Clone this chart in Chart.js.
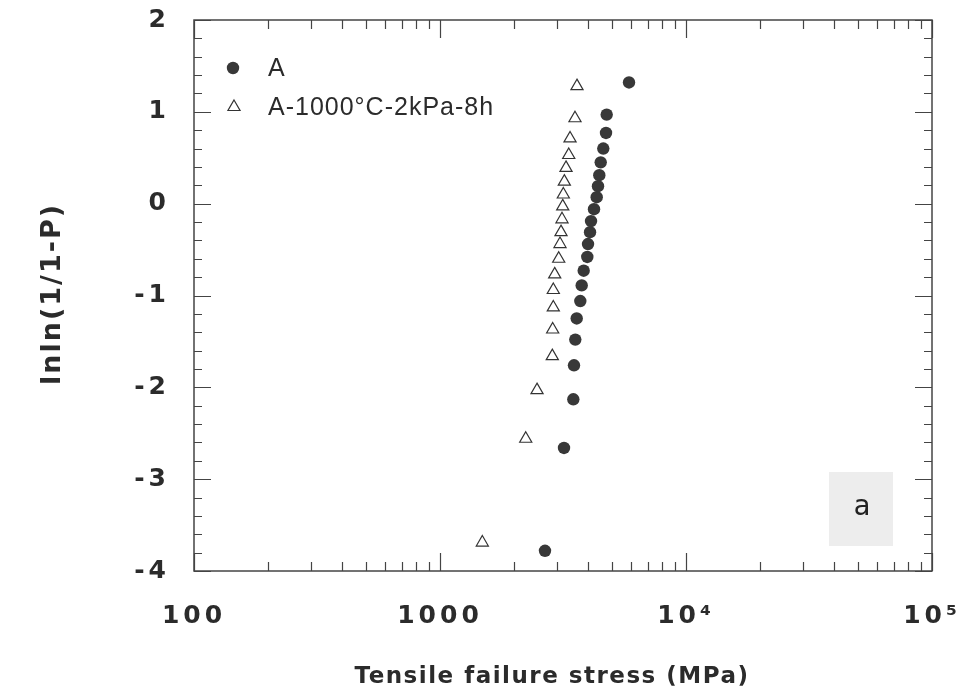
<!DOCTYPE html>
<html>
<head>
<meta charset="utf-8">
<title>Weibull plot - tensile failure stress</title>
<script src="https://cdn.jsdelivr.net/npm/chart.js@4"></script>
<style>
    html, body { margin: 0; padding: 0; background: #fff; }
    #wrap { width: 966px; height: 699px; position: relative; }
</style>
</head>
<body>
<div id="wrap"><canvas id="weibullChart"></canvas></div>
<script>
// Series A (as received) - stress in MPa, lnln(1/1-P)
const stressA = [5866, 4760, 4730, 4611, 4501, 4442, 4388, 4335, 4227, 4111, 4073,
                 3997, 3970, 3838, 3767, 3718, 3595, 3548, 3505, 3483, 3192, 2672];
const lnlnA   = [1.32, 0.97, 0.77, 0.60, 0.45, 0.31, 0.19, 0.07, -0.06, -0.19, -0.31,
                 -0.44, -0.58, -0.73, -0.89, -1.06, -1.25, -1.48, -1.76, -2.13, -2.66, -3.78];

// Series A-1000°C-2kPa-8h
const stressB = [3605, 3538, 3378, 3337, 3253, 3202, 3172, 3154, 3133, 3104,
                 3075, 3038, 2926, 2888, 2888, 2871, 2861, 2480, 2231, 1486];
const lnlnB   = [1.28, 0.93, 0.71, 0.53, 0.39, 0.24, 0.10, -0.03, -0.17, -0.31,
                 -0.44, -0.60, -0.77, -0.94, -1.13, -1.37, -1.66, -2.03, -2.56, -3.69];

const seriesLabels = ['A', 'A-1000°C-2kPa-8h'];

// axis ticks
const xMajorTicks = [100, 1000, 10000, 100000];
const xTickLabels = ['100', '1000', '10⁴', '10⁵'];
const xMinorSteps = [2, 3, 4, 5, 6, 7, 8, 9];
const yMin = -4, yMax = 2, yMinorStep = 0.2;

const textColor = '#2b2b2b';
const lineColor = '#444';

function toPoints(xs, ys) {
    return xs.map((v, i) => ({ x: v, y: ys[i] }));
}

// frame with inward ticks on all four sides, legend and panel tag
const framePlugin = {
    id: 'framePlugin',
    beforeDraw(chart) {
        // wide spacing of the tick numbers
        chart.ctx.letterSpacing = '4px';
    },
    afterDraw(chart) {
        const ctx = chart.ctx;
        const a = chart.chartArea;
        const xs = chart.scales.x, ys = chart.scales.y;
        ctx.save();
        ctx.letterSpacing = '0px';
        ctx.strokeStyle = lineColor;
        ctx.lineWidth = 1.5;
        ctx.strokeRect(a.left, a.top, a.right - a.left, a.bottom - a.top);

        ctx.lineWidth = 1.2;
        ctx.beginPath();
        xs.ticks.forEach(t => {
            const px = Math.round(xs.getPixelForValue(t.value)) + 0.5;
            const len = t.major ? 18 : 9;
            ctx.moveTo(px, a.bottom); ctx.lineTo(px, a.bottom - len);
            ctx.moveTo(px, a.top); ctx.lineTo(px, a.top + len);
        });
        ys.ticks.forEach(t => {
            const py = Math.round(ys.getPixelForValue(t.value)) + 0.5;
            const len = t.major ? 17 : 8;
            ctx.moveTo(a.left, py); ctx.lineTo(a.left + len, py);
            ctx.moveTo(a.right, py); ctx.lineTo(a.right - len, py);
        });
        ctx.stroke();

        // axis titles
        ctx.fillStyle = textColor;
        ctx.textAlign = 'center';
        ctx.textBaseline = 'middle';
        ctx.letterSpacing = '1.5px';
        ctx.font = 'bold 23px "DejaVu Sans"';
        ctx.fillText('Tensile failure stress (MPa)', 552, 677);
        ctx.save();
        ctx.translate(53, 294);
        ctx.rotate(-Math.PI / 2);
        ctx.letterSpacing = '2px';
        ctx.font = 'bold 27px "DejaVu Sans"';
        ctx.fillText('lnln(1/1-P)', 0, 0);
        ctx.restore();

        // legend
        const dsA = chart.data.datasets[0], dsB = chart.data.datasets[1];
        ctx.fillStyle = dsA.backgroundColor;
        ctx.beginPath();
        ctx.arc(233, 68, 6.2, 0, Math.PI * 2);
        ctx.fill();

        const r = 7, cx = 234, cy = 107;
        ctx.beginPath();
        for (let k = 0; k < 3; k++) {
            const ang = k * 2 * Math.PI / 3;
            const px = cx + Math.sin(ang) * r, py = cy - Math.cos(ang) * r;
            k ? ctx.lineTo(px, py) : ctx.moveTo(px, py);
        }
        ctx.closePath();
        ctx.fillStyle = dsB.backgroundColor;
        ctx.fill();
        ctx.strokeStyle = dsB.borderColor;
        ctx.lineWidth = dsB.borderWidth;
        ctx.stroke();

        ctx.fillStyle = textColor;
        ctx.textAlign = 'left';
        ctx.letterSpacing = '1px';
        ctx.font = '25px "Liberation Sans"';
        ctx.fillText(dsA.label, 268, 69);
        ctx.fillText(dsB.label, 268, 108);

        // panel tag "a"
        ctx.letterSpacing = '0px';
        ctx.fillStyle = '#ededed';
        ctx.fillRect(829, 472, 64, 74);
        ctx.fillStyle = '#222';
        ctx.textAlign = 'center';
        ctx.font = '28px "DejaVu Sans Mono"';
        ctx.fillText('a', 862, 508);
        ctx.restore();
    }
};

const config = {
    type: 'scatter',
    data: {
        datasets: [{
            label: seriesLabels[0],
            data: toPoints(stressA, lnlnA),
            pointStyle: 'circle',
            pointRadius: 6.2,
            backgroundColor: '#383838',
            borderColor: '#383838',
            borderWidth: 0
        }, {
            label: seriesLabels[1],
            data: toPoints(stressB, lnlnB),
            pointStyle: 'triangle',
            pointRadius: 7,
            backgroundColor: '#ffffff',
            borderColor: '#333333',
            borderWidth: 1.2
        }]
    },
    options: {
        responsive: true,
        maintainAspectRatio: false,
        animation: false,
        layout: { padding: { left: 0, top: 20, right: 34, bottom: 0 } },
        plugins: {
            legend: { display: false },
            tooltip: { enabled: false }
        },
        scales: {
            x: {
                type: 'logarithmic',
                min: 100,
                max: 100000,
                grid: { display: false, drawTicks: false },
                border: { display: false },
                afterBuildTicks: function(scale) {
                    const ticks = [];
                    xMajorTicks.forEach((m, i) => {
                        ticks.push({ value: m, major: true });
                        if (i < xMajorTicks.length - 1) {
                            xMinorSteps.forEach(s => ticks.push({ value: m * s, major: false }));
                        }
                    });
                    scale.ticks = ticks;
                },
                afterFit: function(scale) {
                    scale.height = 128;
                    scale.paddingLeft = 0;
                    scale.paddingRight = 0;
                },
                ticks: {
                    autoSkip: false,
                    maxRotation: 0,
                    padding: 30,
                    color: textColor,
                    font: { family: 'DejaVu Sans', size: 25, weight: 'bold' },
                    callback: function(value) {
                        const i = xMajorTicks.indexOf(value);
                        return i >= 0 ? xTickLabels[i] : '';
                    }
                }
            },
            y: {
                min: yMin,
                max: yMax,
                grid: { display: false, drawTicks: false },
                border: { display: false },
                afterBuildTicks: function(scale) {
                    const ticks = [];
                    const n = Math.round((yMax - yMin) / yMinorStep);
                    for (let i = 0; i <= n; i++) {
                        const v = +(yMin + i * yMinorStep).toFixed(6);
                        ticks.push({ value: v, major: Math.abs(v - Math.round(v)) < 1e-6 });
                    }
                    scale.ticks = ticks;
                },
                afterFit: function(scale) {
                    scale.width = 194;
                    scale.paddingTop = 0;
                    scale.paddingBottom = 0;
                },
                ticks: {
                    autoSkip: false,
                    padding: 24,
                    color: textColor,
                    font: { family: 'DejaVu Sans', size: 25, weight: 'bold' },
                    callback: function(value) {
                        return Math.abs(value - Math.round(value)) < 1e-6 ? String(Math.round(value)) : '';
                    }
                }
            }
        }
    },
    plugins: [framePlugin]
};

new Chart(document.getElementById('weibullChart'), config);
</script>
</body>
</html>
